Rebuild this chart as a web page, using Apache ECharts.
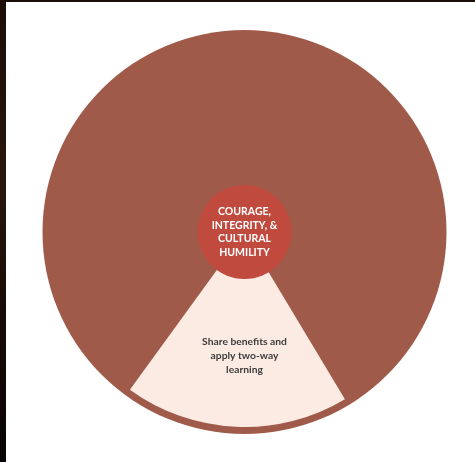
<!DOCTYPE html>
<html>
<head>
<meta charset="utf-8">
<script src="https://cdn.jsdelivr.net/npm/echarts@6/dist/echarts.min.js"></script>
<style>
  html, body { margin: 0; padding: 0; width: 475px; height: 462px; overflow: hidden;
    background: linear-gradient(180deg, #1c0d06 0%, #2a150a 40%, #160a05 70%, #080403 100%); }
  #chart { position: absolute; left: 6px; top: 2px; width: 469px; height: 460px; background: #ffffff; }
</style>
</head>
<body>
<div id="chart"></div>
<script>
// Data
const centerLabel = 'COURAGE,\nINTEGRITY, &\nCULTURAL\nHUMILITY';
const segmentNames = ['Share benefits and\napply two-way\nlearning', 'Rest of circle'];
const segmentValues = [67, 293];   // degrees of the circle
const segmentColors = ['#fcebe3', 'transparent'];

const cx = 238.5, cy = 230;

const chart = echarts.init(document.getElementById('chart'), null, { renderer: 'canvas' });
chart.setOption({
  backgroundColor: '#ffffff',
  animation: false,
  series: [
    {
      type: 'pie', silent: true, center: [cx, cy], radius: [0, 202],
      label: { show: false }, labelLine: { show: false },
      itemStyle: { color: '#a05a4a' },
      data: [{ name: 'disk', value: 1 }]
    },
    {
      type: 'pie', silent: true, center: [cx, cy], radius: [0, 195],
      startAngle: 301, clockwise: true,
      label: { show: false }, labelLine: { show: false },
      data: segmentNames.map((n, i) => ({ name: n, value: segmentValues[i], itemStyle: { color: segmentColors[i] } }))
    },
    {
      type: 'pie', silent: true, center: [cx, cy], radius: [0, 47],
      labelLine: { show: false },
      label: {
        show: true, position: 'center', formatter: '{b}', color: '#ffffff',
        fontFamily: 'Lato', fontWeight: 'bold', fontSize: 10.5, lineHeight: 13.5
      },
      itemStyle: { color: '#c04a3e' },
      data: [{ name: centerLabel, value: 1 }]
    }
  ],
  graphic: [
    {
      type: 'text', x: cx, y: 354, z: 100,
      style: {
        text: segmentNames[0], align: 'center', verticalAlign: 'middle', fill: '#3c3c3c',
        fontFamily: 'Lato', fontWeight: 'bold', fontSize: 10.3, lineHeight: 14
      }
    }
  ]
});
</script>
</body>
</html>
